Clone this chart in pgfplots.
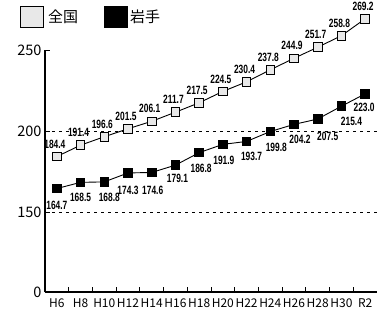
\documentclass[border=0pt]{standalone}
\usepackage{fontspec}
\setmainfont{Noto Sans CJK JP}
\newfontfamily\lblfont[FakeStretch=0.7]{Liberation Sans Bold}
\usepackage{pgfplots}
\usepackage{pgfplotstable}
\pgfplotsset{compat=1.18}
\definecolor{lgray}{RGB}{232,232,232}

\pgfplotstableread{
x y dx dy
0 184.4 -2 12.5
1 191.4 -2 12.5
2 196.6 -2 12.5
3 201.5 -2 12.5
4 206.1 -2 12.5
5 211.7 -2 12.5
6 217.5 -2 12.5
7 224.5 -2 12.5
8 230.4 -2 12.5
9 237.8 -2 12.5
10 244.9 -2 12.5
11 251.7 -2 12.5
12 258.8 -2 12.5
13 269.2 -2 12.5
}\zenkoku

\pgfplotstableread{
x y dx dy
0 164.7 0 -17
1 168.5 0 -15
2 168.8 5 -15
3 174.3 0 -17
4 174.6 1 -18
5 179.1 2 -13
6 186.8 2 -16
7 191.9 1 -16
8 193.7 5 -15
9 199.8 6 -16
10 204.2 6 -15
11 207.5 10 -17
12 215.4 10 -15
13 223.0 -1 -14
}\iwate

\begin{document}
\begin{tikzpicture}
\path[use as bounding box] (-45pt,-16pt) rectangle (332pt,292pt);
% legend keys
\draw[fill=lgray,draw=black,line width=0.9pt] (-24.5pt,265pt) rectangle (-2pt,286pt);
\node[anchor=west, inner sep=0pt, font=\fontsize{15}{16}\selectfont] at (3pt,275.5pt) {全国};
\draw[fill=black,draw=black,line width=0.9pt] (59.5pt,265pt) rectangle (82.5pt,286pt);
\node[anchor=west, inner sep=0pt, font=\fontsize{15}{16}\selectfont] at (85pt,275.5pt) {岩手};
\begin{axis}[
  scale only axis, width=332pt, height=242pt,
  at={(0,0)}, anchor=south west,
  xmin=-0.5, xmax=13.5, ymin=101, ymax=250,
  clip=false,
  /pgf/number format/assume math mode=true,
  axis lines*=left,
  axis line style={line width=1.1pt, black},
  tick align=inside,
  major tick length=5pt,
  tick style={line width=1pt, black},
  xtick={0.5,1.5,...,13.5},
  xticklabels={H6,H8,H10,H12,H14,H16,H18,H20,H22,H24,H26,H28,H30,R2},
  xticklabel style={xshift=-11.86pt, yshift=-3pt, font=\fontsize{12}{12}\selectfont},
  ytick={101,250}, yticklabels={0,250},
  extra y ticks={150,200}, extra y tick labels={150,200},
  extra y tick style={grid=major},
  major grid style={black, line width=0.9pt, dash pattern=on 3pt off 4pt},
  yticklabel style={font=\fontsize{14.5}{15}\selectfont},
]
\addplot[black, line width=0.9pt, mark=square*, mark size=4.3pt,
  mark options={fill=lgray, draw=black, line width=0.9pt, solid},
  nodes near coords={\lblfont\fontsize{12}{12}\selectfont\pgfmathprintnumber[fixed,fixed zerofill,precision=1,assume math mode=true]{\pgfplotspointmeta}},
  visualization depends on={\thisrow{dx}\as\dx},
  visualization depends on={\thisrow{dy}\as\dy},
  every node near coord/.append style={anchor=center, xshift=\dx pt, yshift=\dy pt,
    inner sep=0pt, text=black}] table[x=x,y=y,meta=y] {\zenkoku};

\addplot[black, line width=0.9pt, mark=square*, mark size=4.3pt,
  mark options={fill=black, draw=black, line width=0.9pt, solid},
  nodes near coords={\lblfont\fontsize{12}{12}\selectfont\pgfmathprintnumber[fixed,fixed zerofill,precision=1,assume math mode=true]{\pgfplotspointmeta}},
  visualization depends on={\thisrow{dx}\as\dx},
  visualization depends on={\thisrow{dy}\as\dy},
  every node near coord/.append style={anchor=center, xshift=\dx pt, yshift=\dy pt,
    inner sep=0pt, text=black}] table[x=x,y=y,meta=y] {\iwate};
\end{axis}
\end{tikzpicture}
\end{document}
